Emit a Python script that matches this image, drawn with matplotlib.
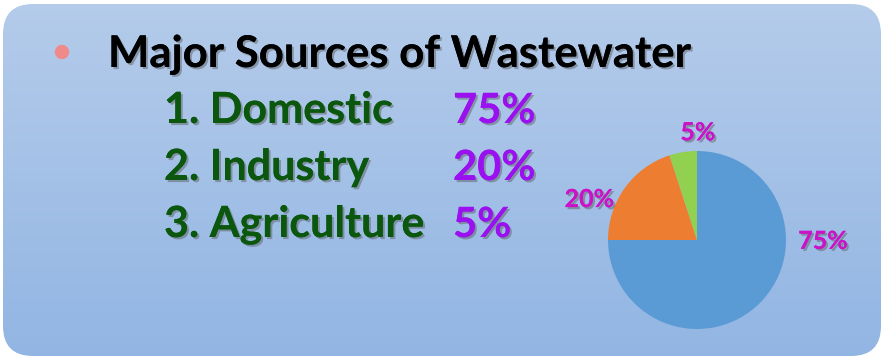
import numpy as np
import matplotlib
matplotlib.use('Agg')
import matplotlib.pyplot as plt
import matplotlib.patheffects as pe
from matplotlib.patches import FancyBboxPatch, Circle

# data
title = "Major Sources of Wastewater"
sources = ["1. Domestic", "2. Industry", "3. Agriculture"]
shares = [75, 20, 5]
pie_colors = ['#5b9bd5', '#ed7d31', '#92d050']

plt.rcParams['font.family'] = ['Lato', 'DejaVu Sans']

fig = plt.figure(figsize=(8.84, 3.6), dpi=100)
bg = fig.add_axes([0, 0, 1, 1])
bg.set_xlim(0, 884)
bg.set_ylim(360, 0)
bg.axis('off')

# rounded gradient panel
box = FancyBboxPatch((3, 4), 878, 352, boxstyle="round,pad=0,rounding_size=30",
                     fc='none', ec='none')
bg.add_patch(box)
grad = np.linspace(0, 1, 256).reshape(-1, 1)
top = np.array([0.71, 0.80, 0.92])
bot = np.array([0.57, 0.71, 0.89])
img = top + (bot - top) * grad[..., None]
im = bg.imshow(img, extent=(0, 884, 360, 0), aspect='auto', zorder=0)
im.set_clip_path(box)

shadow = [pe.withSimplePatchShadow(offset=(1.5, -1.5), shadow_rgbFace='#555555', alpha=0.45), pe.Normal()]

bg.add_patch(Circle((62, 52), 6.5, color='#f08a8a', zorder=2))
bg.text(108, 67, title, fontsize=31.5, fontweight='bold', color='black',
        va='baseline', ha='left', path_effects=shadow)

# baselines of the three rows
ys = [123, 180, 237]
for name, val, y in zip(sources, shares, ys):
    bg.text(164, y, name, fontsize=31, fontweight='bold', color='#0a570d',
            va='baseline', ha='left', path_effects=shadow)
    bg.text(453, y, f"{val}%", fontsize=30, fontweight='bold', color='#9b10f0',
            va='baseline', ha='left', path_effects=shadow)

# pie
pax = fig.add_axes([608 / 884, (360 - 329) / 360, 178 / 884, 178 / 360])
pax.pie(shares, colors=pie_colors, startangle=90, counterclock=False,
        wedgeprops=dict(linewidth=0))
pax.set_xlim(-1, 1)
pax.set_ylim(-1, 1)
pax.set_aspect('equal')
pax.axis('off')

label_pos = [(1.416, -0.10), (-1.21, 0.37), (0.01, 1.12)]
for val, (lx, ly) in zip(shares, label_pos):
    pax.text(lx, ly, f"{val}%", fontsize=18, fontweight='bold', color='#cc12c8',
             ha='center', va='baseline', path_effects=shadow, clip_on=False)

fig.savefig('out.png', dpi=100)
